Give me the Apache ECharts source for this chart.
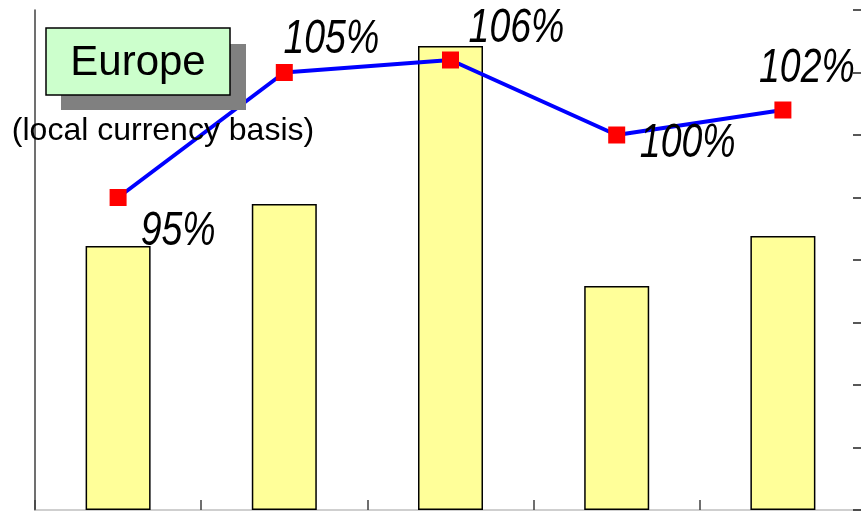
<!DOCTYPE html>
<html>
<head>
<meta charset="utf-8">
<script src="https://cdn.jsdelivr.net/npm/echarts@6/dist/echarts.min.js"></script>
<style>
  html, body { margin: 0; padding: 0; background: #fff; overflow: hidden; }
  /* canvas is a little wider than the window so the right axis line falls just off-screen */
  #chart { width: 866px; height: 512px; }
</style>
</head>
<body>
<div id="chart"></div>
<script>
// Five periods: sales bars (left scale) and year-on-year ratio line (right scale, %)
const periods = ['P1', 'P2', 'P3', 'P4', 'P5'];
const salesValues = [264, 306, 464, 224, 274];
const ratioValues = [95, 105, 106, 100, 102];
// where each ratio label sits relative to its marker (px)
const ratioLabelOffsets = [[60, 34], [47, -33], [66, -31], [71, 9], [24, -41]];

const chart = echarts.init(document.getElementById('chart'));

chart.setOption({
  animation: false,
  backgroundColor: '#fff',
  grid: { left: 35, right: 0, top: 10, bottom: 2, containLabel: false },
  xAxis: {
    type: 'category',
    data: periods,
    boundaryGap: true,
    axisLine: { show: true, lineStyle: { color: '#c0c0c0', width: 1.5 } },
    axisTick: { show: true, inside: true, length: 10, lineStyle: { color: '#404040', width: 1.5 } },
    axisLabel: { show: false },
    splitLine: { show: false }
  },
  yAxis: [
    {
      type: 'value', position: 'left', min: 0, max: 500,
      axisLine: { show: true, lineStyle: { color: '#404040', width: 1.5 } },
      axisTick: { show: false },
      axisLabel: { show: false },
      splitLine: { show: false }
    },
    {
      type: 'value', position: 'right', min: 70, max: 110, interval: 5,
      axisLine: { show: true, lineStyle: { color: '#404040', width: 1.5 } },
      axisTick: { show: true, inside: true, length: 13, lineStyle: { color: '#222', width: 1.5 } },
      axisLabel: { show: false },
      splitLine: { show: false }
    }
  ],
  series: [
    {
      type: 'bar',
      yAxisIndex: 0,
      data: salesValues,
      barWidth: 65,
      itemStyle: { color: '#ffff99', borderColor: '#000', borderWidth: 1.5 },
      z: 2
    },
    {
      type: 'line',
      yAxisIndex: 1,
      data: ratioValues,
      lineStyle: { color: '#0000ff', width: 4 },
      symbol: 'rect',
      symbolSize: 17,
      itemStyle: { color: '#ff0000' },
      z: 3
    }
  ]
});

// Ratio labels: tall, condensed italic figures placed next to each marker
const ratioLabels = ratioValues.map((v, i) => {
  const [px, py] = chart.convertToPixel({ seriesIndex: 1 }, [i, v]);
  return {
    type: 'text', z: 20,
    x: px + ratioLabelOffsets[i][0],
    y: py + ratioLabelOffsets[i][1],
    scaleX: 0.78,
    style: {
      text: v + '%', fill: '#000',
      font: 'italic 48px "Liberation Sans", Arial, sans-serif',
      textAlign: 'center', textVerticalAlign: 'middle'
    }
  };
});

chart.setOption({
  graphic: [
    {
      type: 'rect', z: 10,
      shape: { x: 61, y: 44, width: 185, height: 66 },
      style: { fill: '#808080' }
    },
    {
      type: 'rect', z: 11,
      shape: { x: 46, y: 28, width: 184, height: 67 },
      style: { fill: '#ccffcc', stroke: '#000', lineWidth: 1.5 }
    },
    {
      type: 'text', z: 12,
      x: 138, y: 63,
      style: {
        text: 'Europe', fill: '#000',
        font: '42px "Liberation Sans", Arial, sans-serif',
        textAlign: 'center', textVerticalAlign: 'middle'
      }
    },
    {
      type: 'text', z: 12,
      x: 163, y: 131,
      style: {
        text: '(local currency basis)', fill: '#000',
        font: '32px "Liberation Sans", Arial, sans-serif',
        textAlign: 'center', textVerticalAlign: 'middle'
      }
    }
  ].concat(ratioLabels)
});
</script>
</body>
</html>
